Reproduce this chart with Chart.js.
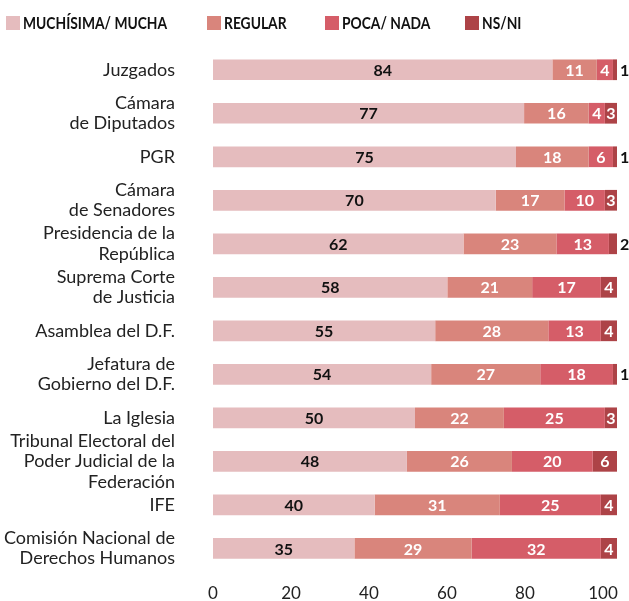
<!DOCTYPE html>
<html>
<head>
<meta charset="utf-8">
<script src="https://cdn.jsdelivr.net/npm/chart.js@4.4.1/dist/chart.umd.min.js"></script>
<style>
  html, body { margin: 0; padding: 0; background: #fff; }
  #wrap { position: relative; width: 629px; height: 601px; }
  #legend { position: absolute; left: 0; top: 0; width: 629px; height: 44px; font-family: Lato, sans-serif; }
  .lg-item { position: absolute; top: 13px; height: 20px; display: flex; align-items: center; white-space: nowrap; }
  .lg-box { width: 14px; height: 14px; margin-right: 3px; flex: none; }
  .lg-text { font-weight: 700; font-size: 17.5px; color: #111; line-height: 20px; display: inline-block; transform: scaleX(0.79); transform-origin: left center; }
  canvas { position: absolute; left: 0; top: 0; }
</style>
</head>
<body>
<div id="wrap">
  <canvas id="c" width="629" height="601"></canvas>
  <div id="legend"></div>
</div>
<script>
const categories = [
  ['Juzgados'],
  ['Cámara', 'de Diputados'],
  ['PGR'],
  ['Cámara', 'de Senadores'],
  ['Presidencia de la', 'República'],
  ['Suprema Corte', 'de Justicia'],
  ['Asamblea del D.F.'],
  ['Jefatura de', 'Gobierno del D.F.'],
  ['La Iglesia'],
  ['Tribunal Electoral del', 'Poder Judicial de la', 'Federación'],
  ['IFE'],
  ['Comisión Nacional de', 'Derechos Humanos']
];
const seriesNames = ['MUCHÍSIMA/ MUCHA', 'REGULAR', 'POCA/ NADA', 'NS/NI'];
const muchisimaMucha = [84, 77, 75, 70, 62, 58, 55, 54, 50, 48, 40, 35];
const regular        = [11, 16, 18, 17, 23, 21, 28, 27, 22, 26, 31, 29];
const pocaNada       = [4, 4, 6, 10, 13, 17, 13, 18, 25, 20, 25, 32];
const nsNi           = [1, 3, 1, 3, 2, 4, 4, 1, 3, 6, 4, 4];
const xTickLabels = [0, 20, 40, 60, 80, 100];

const colors = ['#e5bcbe', '#d9857c', '#d55d68', '#ad4347'];
const labelColors = ['#111111', '#ffffff', '#ffffff', '#ffffff'];
const legendLefts = [6, 207, 325, 465];
const FONT = 'Lato, sans-serif';

const seriesValues = [muchisimaMucha, regular, pocaNada, nsNi];

const valueLabels = {
  id: 'valueLabels',
  afterDatasetsDraw(chart) {
    const ctx = chart.ctx;
    ctx.save();
    ctx.font = '700 16px ' + FONT;
    ctx.textBaseline = 'middle';
    chart.data.datasets.forEach((ds, di) => {
      const meta = chart.getDatasetMeta(di);
      meta.data.forEach((bar, i) => {
        const v = ds.data[i];
        const last = di === chart.data.datasets.length - 1;
        if (last && v <= 2) {
          ctx.fillStyle = '#111111';
          ctx.textAlign = 'left';
          ctx.fillText(String(v), bar.x + 3, bar.y + 1);
        } else {
          ctx.fillStyle = labelColors[di];
          ctx.textAlign = 'center';
          ctx.fillText(String(v), (bar.x + bar.base) / 2, bar.y + 1);
        }
      });
    });
    ctx.restore();
  }
};

const chart = new Chart(document.getElementById('c'), {
  type: 'bar',
  data: {
    labels: categories,
    datasets: seriesValues.map((vals, i) => ({
      label: seriesNames[i],
      data: vals,
      backgroundColor: colors[i],
      borderWidth: 0,
      categoryPercentage: 1,
      barPercentage: 0.476,
      xAxisID: 'x'
    }))
  },
  options: {
    indexAxis: 'y',
    responsive: false,
    animation: false,
    layout: { padding: { top: 48, right: 12, bottom: -15.5, left: 0 } },
    plugins: {
      legend: { display: false },
      tooltip: { enabled: false }
    },
    scales: {
      x: {
        display: false,
        stacked: true,
        min: 0,
        max: 100
      },
      x2: {
        type: 'linear',
        position: 'bottom',
        min: 0,
        max: 103.6,
        grid: { display: false, drawTicks: false },
        border: { display: false },
        afterBuildTicks(scale) { scale.ticks = xTickLabels.map(v => ({ value: v })); },
        afterFit(scale) { scale.paddingLeft = 0; scale.paddingRight = 0; },
        ticks: {
          padding: 13,
          color: '#222',
          font: { family: FONT, size: 17 },
          maxRotation: 0,
          autoSkip: false
        }
      },
      y: {
        stacked: true,
        grid: { display: false, drawTicks: false },
        border: { display: false },
        afterFit(scale) { scale.width = 213; scale.paddingTop = 0; scale.paddingBottom = 0; },
        ticks: {
          padding: 38,
          color: '#222',
          font: { family: FONT, size: 18, lineHeight: 1.14 },
          autoSkip: false
        }
      }
    }
  },
  plugins: [valueLabels]
});

// HTML legend built from the chart's datasets
const legendEl = document.getElementById('legend');
chart.data.datasets.forEach((ds, i) => {
  const item = document.createElement('div');
  item.className = 'lg-item';
  item.style.left = legendLefts[i] + 'px';
  const box = document.createElement('span');
  box.className = 'lg-box';
  box.style.background = ds.backgroundColor;
  const txt = document.createElement('span');
  txt.className = 'lg-text';
  txt.textContent = ds.label;
  item.appendChild(box);
  item.appendChild(txt);
  legendEl.appendChild(item);
});
</script>
</body>
</html>
